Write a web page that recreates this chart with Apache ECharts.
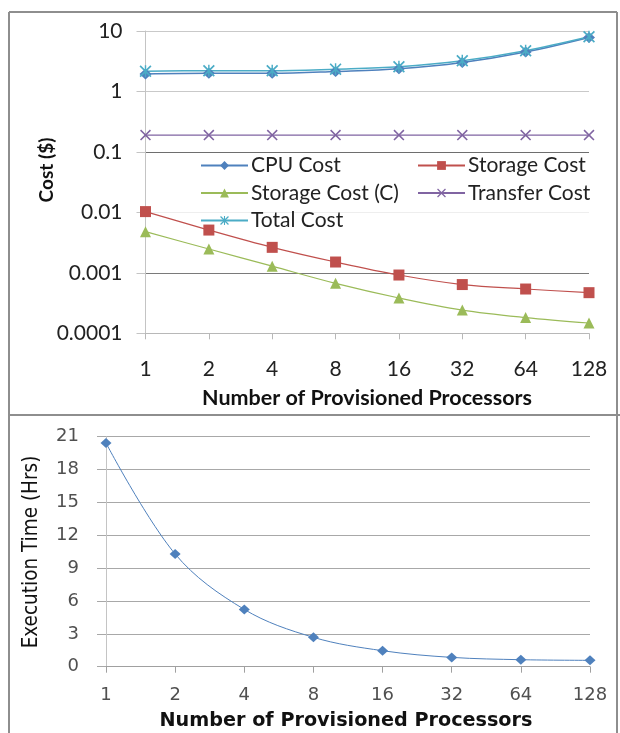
<!DOCTYPE html>
<html>
<head>
<meta charset="utf-8">
<script src="https://cdn.jsdelivr.net/npm/echarts@6/dist/echarts.min.js"></script>
<style>
  html, body { margin: 0; padding: 0; background: #ffffff; }
  #chart { width: 620px; height: 733px; }
</style>
</head>
<body>
<div id="chart"></div>
<script>
// Provisioned processor counts (shared x categories)
const processors = ['1', '2', '4', '8', '16', '32', '64', '128'];

// Cost breakdown in dollars (log scale panel)
const cpuCost      = [1.95, 2.0, 2.0, 2.14, 2.37, 3.02, 4.5, 7.83];
const storageCost  = [0.0103, 0.0051, 0.00264, 0.00151, 0.00092, 0.00064, 0.00054, 0.00047];
const storageCostC = [0.0048, 0.00248, 0.00129, 0.00067, 0.000384, 0.000242, 0.000182, 0.000148];
const transferCost = [0.19, 0.19, 0.19, 0.19, 0.19, 0.19, 0.19, 0.19];
const totalCost    = [2.16, 2.2, 2.2, 2.34, 2.57, 3.22, 4.72, 8.03];

// Execution time in hours
const execTime = [20.42, 10.29, 5.23, 2.68, 1.46, 0.85, 0.64, 0.58];

// Tick values
const costTicks = [0.0001, 0.001, 0.01, 0.1, 1, 10];
const timeTicks = [0, 3, 6, 9, 12, 15, 18, 21];

const C_BLUE = '#4f81bd', C_RED = '#c0504d', C_GREEN = '#9bbb59',
      C_PURPLE = '#8064a2', C_AQUA = '#4bacc6';

const crossPath = 'path://M0,1L1,0L5,4L9,0L10,1L6,5L10,9L9,10L5,6L1,10L0,9L4,5Z';
const starPath = 'path://M0,1L1,0L5,4L9,0L10,1L6,5L10,9L9,10L5,6L1,10L0,9L4,5Z' +
                 'M4.4,0L5.6,0L5.6,10L4.4,10Z';

const topFont = 'Lato, "Open Sans", sans-serif';
const botFont = '"DejaVu Sans", Verdana, sans-serif';
const narrowFont = '"Liberation Sans Narrow", "DejaVu Sans Condensed", sans-serif';

function lineSeries(name, data, color, symbol, size, width) {
  return {
    name: name, type: 'line', xAxisIndex: 0, yAxisIndex: 0,
    data: data, smooth: 0.35, symbol: symbol, symbolSize: size,
    lineStyle: { color: color, width: width },
    itemStyle: { color: color },
    emphasis: { disabled: true }
  };
}

const chart = echarts.init(document.getElementById('chart'), null, { renderer: 'canvas' });

const borderColor = '#8e8e8e';

chart.setOption({
  animation: false,
  backgroundColor: '#ffffff',
  grid: [
    { left: 145.5, right: 31, top: 31, bottom: 733 - 333.3 },
    { left: 106, right: 30, top: 436.7, bottom: 733 - 666.7 }
  ],
  xAxis: [
    {
      gridIndex: 0, type: 'category', data: processors, boundaryGap: false,
      axisLine: { lineStyle: { color: '#b8b8b8', width: 1 } },
      axisTick: { show: true, length: 6, lineStyle: { color: '#b8b8b8' } },
      axisLabel: { margin: 25, fontFamily: topFont, fontSize: 21, color: '#222' },
      splitLine: { show: false }
    },
    {
      gridIndex: 1, type: 'category', data: processors, boundaryGap: false,
      axisLine: { lineStyle: { color: '#a0a0a0', width: 1 } },
      axisTick: { show: true, length: 6, lineStyle: { color: '#a0a0a0' } },
      axisLabel: { margin: 20, fontFamily: botFont, fontSize: 18, color: '#505050' },
      splitLine: { show: false }
    }
  ],
  yAxis: [
    {
      gridIndex: 0, type: 'log', logBase: 10,
      min: costTicks[0], max: costTicks[costTicks.length - 1],
      axisLine: { show: true, lineStyle: { color: '#c4c4c4', width: 1 } },
      axisTick: { show: true, length: 9, inside: false, lineStyle: { color: '#c4c4c4' } },
      axisLabel: {
        margin: 23, fontFamily: topFont, fontSize: 21, color: '#222',
        formatter: v => String(Number(Number(v).toPrecision(2)))
      },
      splitLine: {
        show: true,
        lineStyle: { width: 1, color: ['#bdbdbd', '#7a7a7a', '#eeeeee', '#6e6e6e', '#c9c9c9', '#c9c9c9'] }
      },
      minorSplitLine: { show: false }
    },
    {
      gridIndex: 1, type: 'value',
      min: timeTicks[0], max: timeTicks[timeTicks.length - 1], interval: 3,
      axisLine: { show: true, lineStyle: { color: '#c4c4c4', width: 1 } },
      axisTick: { show: true, length: 9, lineStyle: { color: '#a8a8a8' } },
      axisLabel: { margin: 27, fontFamily: botFont, fontSize: 18, color: '#505050' },
      splitLine: { show: true, lineStyle: { color: '#a8a8a8', width: 1 } }
    }
  ],
  legend: [
    {
      orient: 'vertical', left: 200, top: 155,
      data: ['CPU Cost', 'Storage Cost (C)', 'Total Cost'],
      itemWidth: 47, itemHeight: 11, itemGap: 6.5, padding: 0,
      textStyle: { fontFamily: topFont, fontSize: 21, color: '#222', padding: [0, 0, 0, -2] },
      selectedMode: false
    },
    {
      orient: 'vertical', left: 417, top: 155,
      data: ['Storage Cost', 'Transfer Cost'],
      itemWidth: 47, itemHeight: 11, itemGap: 6.5, padding: 0,
      textStyle: { fontFamily: topFont, fontSize: 21, color: '#222', padding: [0, 0, 0, -2] },
      selectedMode: false
    }
  ],
  graphic: [
    // panel frames
    { type: 'line', shape: { x1: 9, y1: 12, x2: 9, y2: 733 }, style: { stroke: borderColor, lineWidth: 2 }, silent: true },
    { type: 'line', shape: { x1: 9, y1: 12, x2: 617, y2: 12 }, style: { stroke: borderColor, lineWidth: 2 }, silent: true },
    { type: 'line', shape: { x1: 617, y1: 12, x2: 617, y2: 733 }, style: { stroke: borderColor, lineWidth: 2 }, silent: true },
    { type: 'line', shape: { x1: 9, y1: 415, x2: 620, y2: 415 }, style: { stroke: borderColor, lineWidth: 2 }, silent: true },
    // axis titles
    {
      type: 'text', x: 47, y: 170, rotation: Math.PI / 2,
      style: { text: 'Cost ($)', fontFamily: topFont, fontWeight: 'bold', fontSize: 19,
               fill: '#111', align: 'center', verticalAlign: 'middle' }, silent: true
    },
    {
      type: 'text', x: 367, y: 398,
      style: { text: 'Number of Provisioned Processors', fontFamily: topFont, fontWeight: 'bold',
               fontSize: 21.5, fill: '#111', align: 'center', verticalAlign: 'middle' }, silent: true
    },
    {
      type: 'text', x: 32, y: 552, rotation: Math.PI / 2,
      style: { text: 'Execution Time (Hrs)', fontFamily: narrowFont,
               fontSize: 20.5, fill: '#111', align: 'center', verticalAlign: 'middle' }, silent: true
    },
    {
      type: 'text', x: 346, y: 721,
      style: { text: 'Number of Provisioned Processors', fontFamily: botFont, fontWeight: 'bold',
               fontSize: 19.2, fill: '#111', align: 'center', verticalAlign: 'middle' }, silent: true
    }
  ],
  series: [
    lineSeries('CPU Cost', cpuCost, C_BLUE, 'diamond', [12, 11], 1.5),
    lineSeries('Storage Cost', storageCost, C_RED, 'rect', 11, 1.2),
    lineSeries('Storage Cost (C)', storageCostC, C_GREEN, 'triangle', 11, 1.2),
    lineSeries('Transfer Cost', transferCost, C_PURPLE, crossPath, 11, 1.2),
    lineSeries('Total Cost', totalCost, C_AQUA, starPath, 12, 1.5),
    {
      name: 'Execution Time', type: 'line', xAxisIndex: 1, yAxisIndex: 1,
      data: execTime, smooth: 0.35, symbol: 'diamond', symbolSize: [11, 10],
      lineStyle: { color: C_BLUE, width: 1 },
      itemStyle: { color: C_BLUE },
      emphasis: { disabled: true }
    }
  ]
});
</script>
</body>
</html>
